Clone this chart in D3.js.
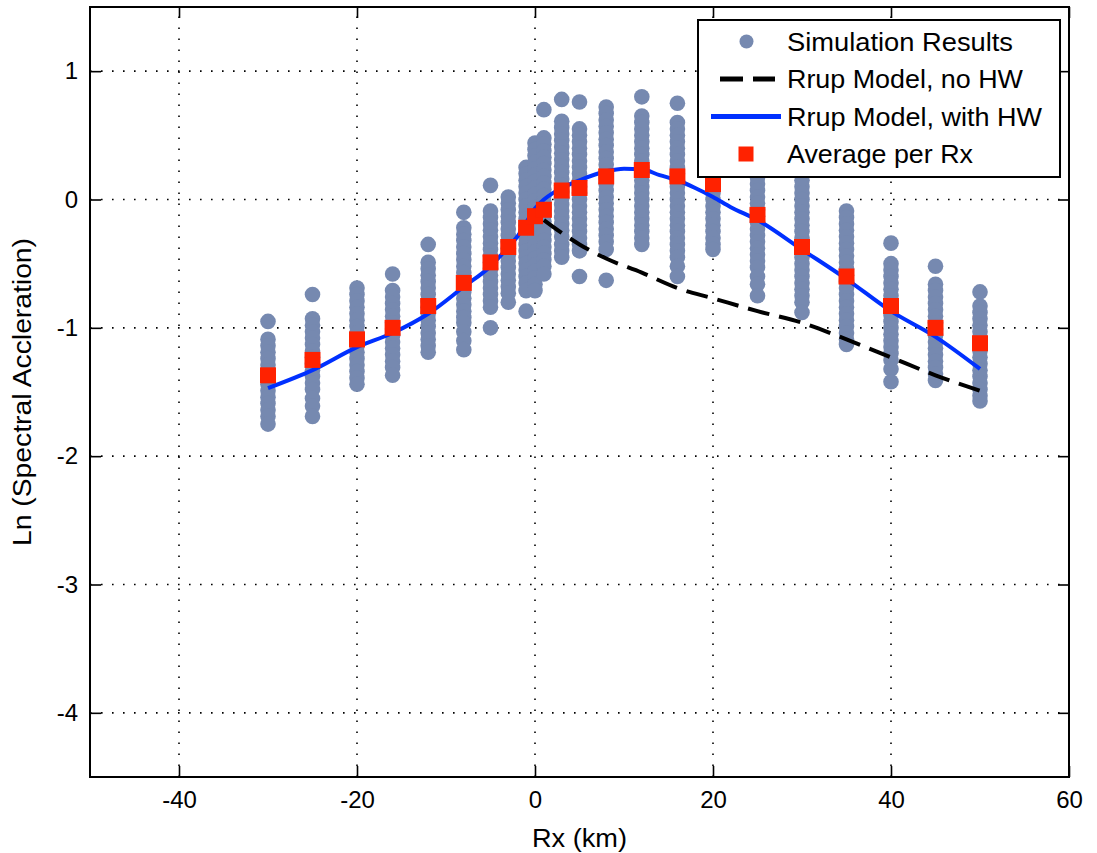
<!DOCTYPE html>
<html>
<head>
<meta charset="utf-8">
<script src="https://cdn.jsdelivr.net/npm/d3@7"></script>
<style>
  html, body { margin: 0; padding: 0; background: #fff; }
  svg { display: block; }
  text { font-family: "Liberation Sans", Arial, sans-serif; fill: #000; }
</style>
</head>
<body>
<svg id="chart" width="1097" height="853"></svg>
<script>
// Rx positions of the simulated stations (km)
const simRx = [-30, -25, -20, -16, -12, -8, -5, -3, -1, 0, 1, 3, 5, 8, 12, 16, 20, 25, 30, 35, 40, 45, 50];

// Simulated Ln(SA) values at each Rx position
const simLnSA = [
  [-0.95,-1.09,-1.14,-1.19,-1.24,-1.29,-1.34,-1.39,-1.44,-1.49,-1.54,-1.59,-1.64,-1.69,-1.75],
  [-0.74,-0.93,-0.98,-1.03,-1.08,-1.13,-1.18,-1.23,-1.28,-1.33,-1.38,-1.43,-1.48,-1.55,-1.61,-1.69],
  [-0.69,-0.74,-0.79,-0.84,-0.89,-0.94,-0.99,-1.04,-1.09,-1.14,-1.19,-1.24,-1.29,-1.34,-1.39,-1.44],
  [-0.58,-0.71,-0.76,-0.81,-0.86,-0.91,-0.96,-1.01,-1.06,-1.11,-1.16,-1.21,-1.26,-1.31,-1.37],
  [-0.35,-0.49,-0.54,-0.59,-0.64,-0.69,-0.74,-0.79,-0.84,-0.89,-0.94,-0.99,-1.04,-1.09,-1.14,-1.19],
  [-0.10,-0.22,-0.27,-0.32,-0.37,-0.42,-0.47,-0.52,-0.57,-0.62,-0.67,-0.72,-0.77,-0.82,-0.87,-0.92,-0.96,-1.03,-1.10,-1.17],
  [0.11,-0.09,-0.14,-0.19,-0.24,-0.29,-0.34,-0.39,-0.44,-0.49,-0.54,-0.59,-0.64,-0.69,-0.74,-0.79,-0.84,-1.00],
  [0.02,-0.03,-0.08,-0.13,-0.18,-0.23,-0.28,-0.33,-0.38,-0.43,-0.48,-0.53,-0.58,-0.63,-0.68,-0.73,-0.80],
  [0.25,0.20,0.15,0.10,0.05,0.00,-0.05,-0.10,-0.15,-0.20,-0.25,-0.30,-0.35,-0.40,-0.45,-0.50,-0.55,-0.60,-0.65,-0.71,-0.87],
  [0.44,0.39,0.34,0.29,0.24,0.19,0.14,0.09,0.04,-0.01,-0.06,-0.11,-0.16,-0.21,-0.26,-0.31,-0.36,-0.41,-0.46,-0.51,-0.56,-0.61,-0.66,-0.71],
  [0.70,0.48,0.43,0.38,0.33,0.28,0.23,0.18,0.13,0.08,0.03,-0.02,-0.07,-0.12,-0.17,-0.22,-0.27,-0.32,-0.37,-0.42,-0.47,-0.52,-0.58],
  [0.78,0.61,0.56,0.51,0.46,0.41,0.36,0.31,0.26,0.21,0.16,0.11,0.06,0.01,-0.04,-0.09,-0.14,-0.19,-0.24,-0.29,-0.35,-0.40,-0.45],
  [0.76,0.55,0.50,0.45,0.40,0.35,0.30,0.25,0.20,0.15,0.10,0.05,0.00,-0.05,-0.10,-0.15,-0.20,-0.25,-0.30,-0.35,-0.40,-0.60],
  [0.72,0.67,0.62,0.57,0.52,0.47,0.42,0.37,0.32,0.27,0.22,0.17,0.12,0.07,0.02,-0.03,-0.08,-0.13,-0.18,-0.23,-0.28,-0.33,-0.39,-0.63],
  [0.80,0.65,0.60,0.55,0.50,0.45,0.40,0.35,0.30,0.25,0.20,0.15,0.10,0.05,0.00,-0.05,-0.10,-0.15,-0.20,-0.25,-0.30,-0.35],
  [0.75,0.60,0.55,0.50,0.45,0.40,0.35,0.30,0.25,0.20,0.15,0.10,0.05,0.00,-0.05,-0.10,-0.15,-0.20,-0.25,-0.30,-0.35,-0.40,-0.45,-0.52,-0.60],
  [0.70,0.65,0.60,0.55,0.50,0.45,0.40,0.35,0.30,0.25,0.20,0.15,0.10,0.05,0.00,-0.05,-0.10,-0.15,-0.20,-0.25,-0.30,-0.35,-0.39],
  [0.62,0.57,0.52,0.47,0.42,0.37,0.32,0.27,0.22,0.17,0.12,0.07,0.02,-0.03,-0.08,-0.13,-0.18,-0.23,-0.28,-0.33,-0.38,-0.43,-0.48,-0.53,-0.60,-0.66,-0.75],
  [0.55,0.50,0.45,0.40,0.35,0.30,0.25,0.20,0.15,0.10,0.05,0.00,-0.05,-0.10,-0.15,-0.20,-0.25,-0.30,-0.35,-0.40,-0.45,-0.50,-0.55,-0.60,-0.65,-0.70,-0.75,-0.80,-0.88],
  [-0.09,-0.14,-0.19,-0.24,-0.29,-0.34,-0.39,-0.44,-0.49,-0.54,-0.59,-0.64,-0.69,-0.74,-0.79,-0.84,-0.89,-0.94,-0.99,-1.04,-1.09,-1.13],
  [-0.34,-0.50,-0.55,-0.60,-0.65,-0.70,-0.75,-0.80,-0.85,-0.90,-0.95,-1.00,-1.05,-1.10,-1.15,-1.20,-1.25,-1.32,-1.42],
  [-0.52,-0.66,-0.71,-0.76,-0.81,-0.86,-0.91,-0.96,-1.01,-1.06,-1.11,-1.16,-1.21,-1.26,-1.31,-1.36,-1.41],
  [-0.72,-0.83,-0.88,-0.93,-0.98,-1.03,-1.08,-1.13,-1.18,-1.23,-1.28,-1.33,-1.38,-1.43,-1.48,-1.53,-1.57]
];

// Average Ln(SA) per Rx position
const avgLnSA = [-1.37,-1.25,-1.09,-1.00,-0.83,-0.65,-0.49,-0.37,-0.22,-0.13,-0.08,0.07,0.09,0.18,0.23,0.18,0.12,-0.12,-0.37,-0.60,-0.83,-1.00,-1.12];

// Rrup model including the hanging-wall term
const hwRx   = [-30,-25,-20,-16,-12,-8,-5,-3,-2,-1,0,1,2,3,5,8,10,12,14,16,18,20,22,25,30,35,40,45,50];
const hwLnSA = [-1.47,-1.33,-1.15,-1.04,-0.89,-0.68,-0.52,-0.37,-0.29,-0.18,-0.07,0.00,0.05,0.09,0.15,0.22,0.24,0.235,0.19,0.15,0.09,0.02,-0.06,-0.16,-0.39,-0.62,-0.87,-1.07,-1.32];

// Rrup model without the hanging-wall term
const noHwRx   = [1,3,5,8,12,16,20,25,30,35,40,45,50];
const noHwLnSA = [-0.16,-0.26,-0.35,-0.46,-0.57,-0.69,-0.77,-0.87,-0.96,-1.09,-1.23,-1.37,-1.49];

// Axis ticks and labels
const xTicks = [-40, -20, 0, 20, 40, 60];
const yTicks = [-4, -3, -2, -1, 0, 1];
const legendLabels = ["Simulation Results", "Rrup Model, no HW", "Rrup Model, with HW", "Average per Rx"];
const legendWidths = [226, 236, 255, 186];

const colDot = "#7689b0", colAvg = "#ff2200", colHw = "#0030ff";

const svg = d3.select("#chart");
const plot = { left: 90, right: 1069, top: 7, bottom: 777 };

const x = d3.scaleLinear().domain([-50, 60]).range([plot.left, plot.right]);
const y = d3.scaleLinear().domain([-4.5, 1.5]).range([plot.bottom, plot.top]);

// dotted grid
const grid = svg.append("g").attr("stroke", "#000").attr("stroke-width", 1.6)
  .attr("stroke-dasharray", "1.6 9.4");
grid.selectAll("line.gx").data(xTicks.filter(d => d > -50 && d < 60)).enter().append("line")
  .attr("x1", d => x(d)).attr("x2", d => x(d)).attr("y1", plot.bottom).attr("y2", plot.top);
grid.selectAll("line.gy").data(yTicks).enter().append("line")
  .attr("y1", d => y(d)).attr("y2", d => y(d)).attr("x1", plot.left).attr("x2", plot.right);

// simulated values
const simPts = [];
simRx.forEach((rx, i) => simLnSA[i].forEach(v => simPts.push([rx, v])));
svg.append("g").selectAll("circle").data(simPts).enter().append("circle")
  .attr("cx", d => x(d[0])).attr("cy", d => y(d[1])).attr("r", 7.8).attr("fill", colDot);

// model curves
const line = d3.line().x(d => x(d[0])).y(d => y(d[1])).curve(d3.curveMonotoneX);
svg.append("path").datum(noHwRx.map((r, i) => [r, noHwLnSA[i]]))
  .attr("d", line).attr("fill", "none").attr("stroke", "#000").attr("stroke-width", 4)
  .attr("stroke-dasharray", "22 10");
svg.append("path").datum(hwRx.map((r, i) => [r, hwLnSA[i]]))
  .attr("d", line).attr("fill", "none").attr("stroke", colHw).attr("stroke-width", 4);

// averages
const sq = 16;
svg.append("g").selectAll("rect").data(simRx.map((r, i) => [r, avgLnSA[i]])).enter().append("rect")
  .attr("x", d => x(d[0]) - sq / 2).attr("y", d => y(d[1]) - sq / 2)
  .attr("width", sq).attr("height", sq).attr("fill", colAvg);

// frame and inward ticks
svg.append("rect").attr("x", plot.left).attr("y", plot.top)
  .attr("width", plot.right - plot.left).attr("height", plot.bottom - plot.top)
  .attr("fill", "none").attr("stroke", "#000").attr("stroke-width", 2);

const fmt = d => String(d);
const axB = d3.axisBottom(x).tickValues(xTicks).tickSizeInner(-11).tickSizeOuter(0).tickPadding(14).tickFormat(fmt);
const axT = d3.axisTop(x).tickValues(xTicks).tickSizeInner(-11).tickSizeOuter(0).tickFormat("");
const axL = d3.axisLeft(y).tickValues(yTicks).tickSizeInner(-11).tickSizeOuter(0).tickPadding(12).tickFormat(fmt);
const axR = d3.axisRight(y).tickValues(yTicks).tickSizeInner(-11).tickSizeOuter(0).tickFormat("");

function styleAxis(g) {
  g.select(".domain").remove();
  g.selectAll(".tick line").attr("stroke", "#000").attr("stroke-width", 1.6);
  g.selectAll(".tick text").attr("font-size", 24).attr("fill", "#000")
    .attr("font-family", "'Liberation Sans', Arial, sans-serif");
}
svg.append("g").attr("transform", `translate(0,${plot.bottom})`).call(axB).call(styleAxis);
svg.append("g").attr("transform", `translate(0,${plot.top})`).call(axT).call(styleAxis);
svg.append("g").attr("transform", `translate(${plot.left},0)`).call(axL).call(styleAxis);
svg.append("g").attr("transform", `translate(${plot.right},0)`).call(axR).call(styleAxis);

// axis titles
svg.append("text").attr("x", (plot.left + plot.right) / 2).attr("y", 847)
  .attr("text-anchor", "middle").attr("font-size", 25)
  .attr("textLength", 95).attr("lengthAdjust", "spacingAndGlyphs").text("Rx (km)");
svg.append("text").attr("transform", `translate(31,${(plot.top + plot.bottom) / 2}) rotate(-90)`)
  .attr("text-anchor", "middle").attr("font-size", 25)
  .attr("textLength", 308).attr("lengthAdjust", "spacingAndGlyphs").text("Ln (Spectral Accleration)");

// legend
const lg = svg.append("g");
lg.append("rect").attr("x", 698).attr("y", 20).attr("width", 362).attr("height", 157)
  .attr("fill", "#fff").attr("stroke", "#000").attr("stroke-width", 2);
const rowY = [41.5, 79, 116.5, 154];
lg.append("circle").attr("cx", 746.5).attr("cy", rowY[0]).attr("r", 7).attr("fill", colDot);
lg.append("line").attr("x1", 720).attr("x2", 775).attr("y1", rowY[1]).attr("y2", rowY[1])
  .attr("stroke", "#000").attr("stroke-width", 5).attr("stroke-dasharray", "23 10");
lg.append("line").attr("x1", 711).attr("x2", 781).attr("y1", rowY[2]).attr("y2", rowY[2])
  .attr("stroke", colHw).attr("stroke-width", 5);
lg.append("rect").attr("x", 746 - 7.5).attr("y", rowY[3] - 7.5).attr("width", 15).attr("height", 15)
  .attr("fill", colAvg);
lg.selectAll("text").data(legendLabels).enter().append("text")
  .attr("x", 787).attr("y", (d, i) => rowY[i] + 9).attr("font-size", 25)
  .attr("textLength", (d, i) => legendWidths[i]).attr("lengthAdjust", "spacingAndGlyphs")
  .text(d => d);
</script>
</body>
</html>
